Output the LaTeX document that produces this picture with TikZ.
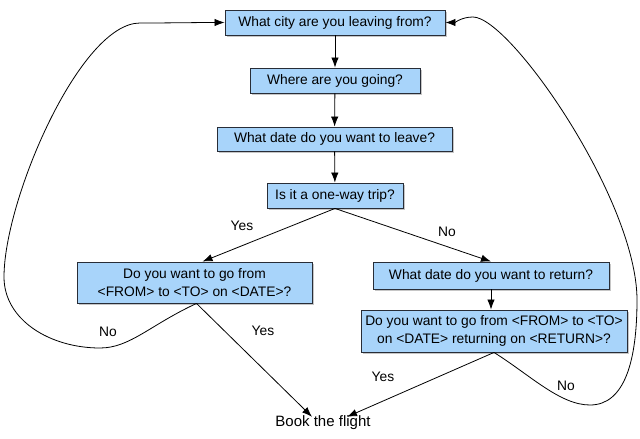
\documentclass[tikz,border=0pt]{standalone}
\usepackage{fontspec}
\setmainfont{Liberation Sans}
\usetikzlibrary{shadows,arrows.meta,calc}
\definecolor{boxfill}{RGB}{168,212,250}
\definecolor{boxline}{RGB}{40,45,55}
\begin{document}
\begin{tikzpicture}[x=1pt,y=1pt,
  font=\fontsize{13.8}{17.5}\selectfont,
  qbox/.style={draw=boxline,line width=0.9pt,fill=boxfill,inner sep=0pt,align=center,
    drop shadow={opacity=0.45,shadow xshift=1.5pt,shadow yshift=-2pt}},
  arr/.style={draw=black,line width=0.8pt,-{Latex[length=10pt,width=7.5pt]}},
  lbl/.style={inner sep=0pt}]
\useasboundingbox (0,0) rectangle (640,-439);
\node[qbox,minimum width=220,minimum height=25] (b1) at (335,-22.5) {What city are you leaving from?};
\node[qbox,minimum width=170,minimum height=25] (b2) at (335,-80.5) {Where are you going?};
\node[qbox,minimum width=235,minimum height=24] (b3) at (334.5,-139) {What date do you want to leave?};
\node[qbox,minimum width=136,minimum height=25] (b4) at (335,-195.5) {Is it a one-way trip?};
\node[qbox,minimum width=235,minimum height=41] (b5) at (194.5,-282.5) {Do you want to go from\\<FROM> to <TO> on <DATE>?};
\node[qbox,minimum width=236,minimum height=27] (b6) at (491,-275.5) {What date do you want to return?};
\node[qbox,minimum width=266,minimum height=42] (b7) at (494,-331) {Do you want to go from <FROM> to <TO>\\on <DATE> returning on <RETURN>?};
\node[lbl,font=\fontsize{15}{18}\selectfont] (bk) at (323,-423) {Book the flight};
\draw[arr] (b1) -- (b2);
\draw[arr] (b2) -- (b3);
\draw[arr] (b3) -- (b4);
\draw[arr] (b4.south) -- ([xshift=8pt]b5.north);
\draw[arr] (b4.south) -- (b6.north);
\draw[arr] (b6.south) -- (b6.south |- b7.north);
\draw[arr] ([xshift=2pt]b5.south) -- ([xshift=-11pt,yshift=-1pt]bk.north);
\draw[arr] (b7.south) -- ([xshift=24pt,yshift=-1pt]bk.north);
\draw[arr] ([xshift=2pt]b5.south) .. controls (150,-325) and (130,-348) .. (100,-348)
  .. controls (50,-348) and (4,-320) .. (4,-277)
  .. controls (4,-200) and (80,-23) .. (140,-23)
  .. controls (170,-23) and (195,-22.5) .. (b1.west);
\draw[arr] (b7.south) .. controls (530,-375) and (560,-405) .. (590,-405)
  .. controls (625,-405) and (637,-360) .. (637,-300)
  .. controls (637,-200) and (510,-17) .. (473,-17)
  .. controls (462,-17) and (455,-22.5) .. (b1.east);
\node[lbl] (y1) at (242,-226) {Yes};
\node[lbl] (n1) at (447,-232) {No};
\node[lbl] (y2) at (263,-331) {Yes};
\node[lbl] (n2) at (108,-332) {No};
\node[lbl] (y3) at (383,-377) {Yes};
\node[lbl] (n3) at (566,-386) {No};
\end{tikzpicture}
\end{document}
